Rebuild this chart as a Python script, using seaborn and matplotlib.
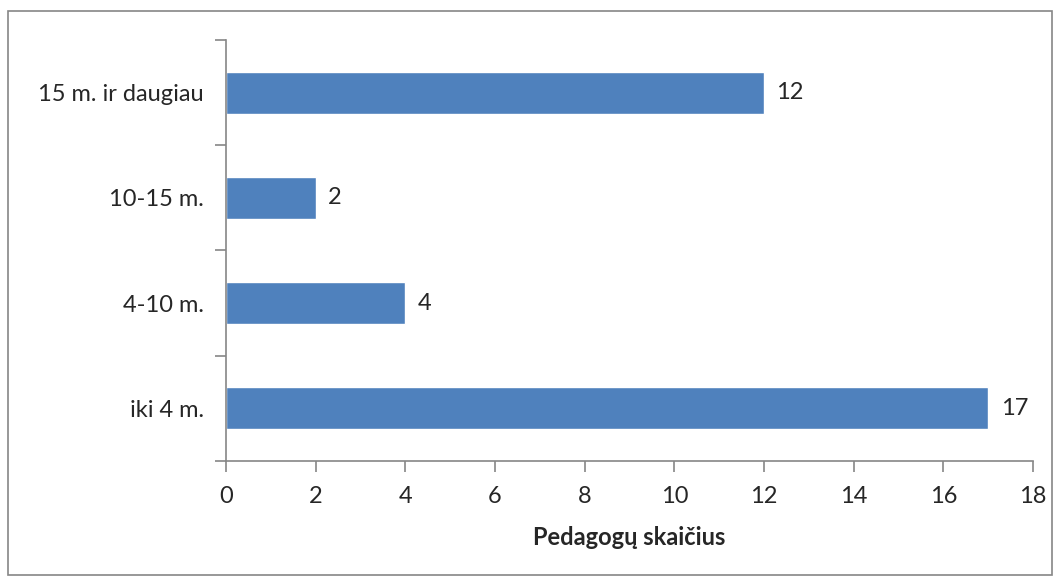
import pandas as pd
import seaborn as sns
import matplotlib.pyplot as plt
from matplotlib.patches import Rectangle

# Data
categories = ['15 m. ir daugiau', '10-15 m.', '4-10 m.', 'iki 4 m.']
teachers = [12, 2, 4, 17]
x_ticks = [0, 2, 4, 6, 8, 10, 12, 14, 16, 18]

df = pd.DataFrame({'category': categories, 'count': teachers})

sns.set_style('white')
plt.rcParams['font.family'] = ['Lato', 'DejaVu Sans']

grey = '#868686'
fs = 17
fig = plt.figure(figsize=(10.62, 5.81), dpi=100)
ax = fig.add_axes([0.2128, 0.2065, 0.7599, 0.7247])

sns.barplot(data=df, x='count', y='category', order=categories, orient='h',
            color='#4F81BD', saturation=1, width=0.4, ax=ax)

# value labels at the end of each bar
ax.bar_label(ax.containers[0], fmt='%d', padding=9, fontsize=fs)

ax.set_xlim(0, 18)
ax.set_xticks(x_ticks)
ax.set_ylim(len(categories) - 0.5, -0.5)

# category boundaries get the tick marks, like Excel
ax.set_yticks([i - 0.5 for i in range(len(categories) + 1)], minor=True)
ax.tick_params(axis='y', which='major', left=True, length=0, pad=16, labelsize=fs)
ax.tick_params(axis='y', which='minor', left=True, length=8, width=1.2,
               color=grey, direction='out')
ax.tick_params(axis='x', which='major', bottom=True, length=8, width=1.2, color=grey,
               direction='out', pad=10, labelsize=fs)

for side in ['top', 'right']:
    ax.spines[side].set_visible(False)
for side in ['left', 'bottom']:
    ax.spines[side].set_color(grey)
    ax.spines[side].set_linewidth(1.2)

ax.set_ylabel('')
ax.set_xlabel('Pedagogų skaičius', fontsize=fs, fontweight='bold', labelpad=14)

# chart frame
fig.patches.append(Rectangle((8 / 1062, 1 - 575 / 581), 1044 / 1062, 564 / 581,
                             transform=fig.transFigure, fill=False,
                             edgecolor=grey, linewidth=1.2))

fig.savefig('out.png', dpi=100)
